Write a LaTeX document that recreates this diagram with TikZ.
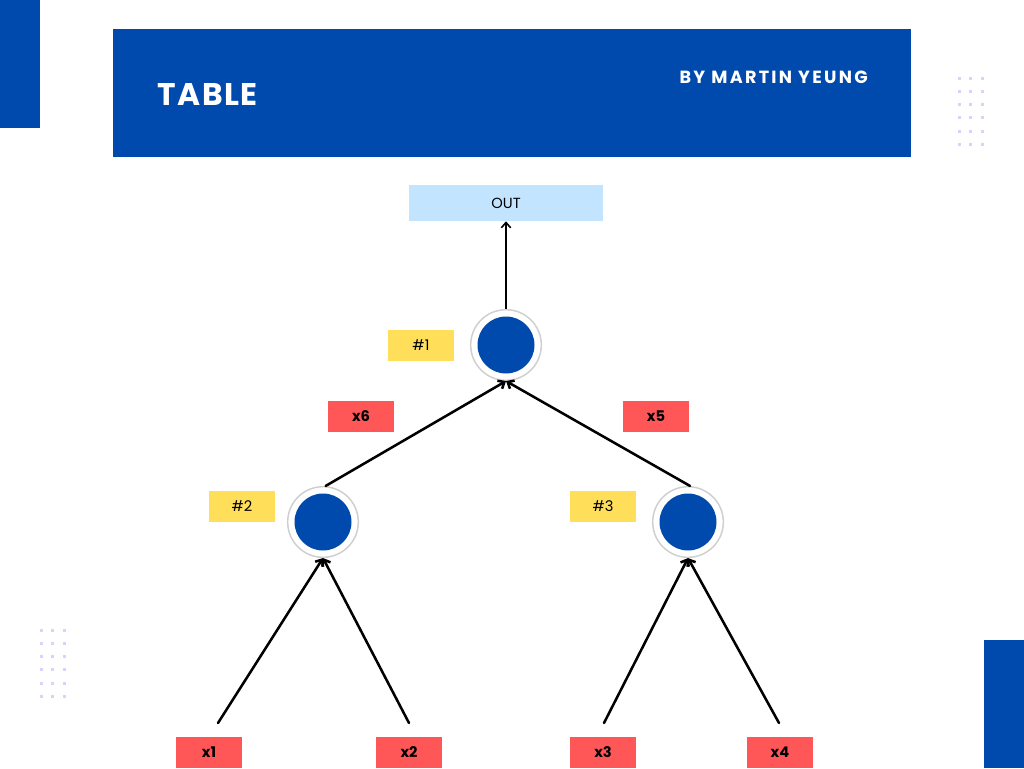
\documentclass[tikz,border=0pt]{standalone}
\usepackage{fontspec}
\setmainfont{Poppins}
\newfontfamily\titlefont[LetterSpace=5]{Poppins}
\newfontfamily\authorfont[LetterSpace=13]{Poppins}
\usetikzlibrary{arrows.meta}
\definecolor{hdrblue}{HTML}{004AAD}
\definecolor{boxred}{HTML}{FF5757}
\definecolor{boxyellow}{HTML}{FFDE59}
\definecolor{outblue}{HTML}{C2E4FF}
\definecolor{dotlav}{HTML}{D8D3FA}
\definecolor{ringgray}{HTML}{CFCFCF}

\begin{document}
\begin{tikzpicture}[x=0.75pt,y=-0.75pt,>={Straight Barb[length=4pt,width=7pt]}]
	\tikzstyle{weight}=[fill=boxred,minimum width=49.5pt,minimum height=23.25pt,inner sep=0pt,font=\bfseries\fontsize{11}{12}\selectfont]
	\tikzstyle{tag}=[fill=boxyellow,minimum width=49.5pt,minimum height=23.25pt,inner sep=0pt,font=\fontsize{11}{12}\selectfont]
	\tikzstyle{ring}=[draw=ringgray,line width=1.1pt,fill=white,shape=circle,minimum size=53pt,inner sep=0pt]
	\tikzstyle{dot}=[fill=hdrblue,shape=circle,minimum size=42.75pt,inner sep=0pt]
	\tikzstyle{link}=[draw,line width=1.9pt,line cap=round]

	\useasboundingbox (0,0) rectangle (1024,768);

	% header
	\fill[hdrblue] (0,0) rectangle (40,128);
	\fill[hdrblue] (113,29) rectangle (911,157);
	\fill[hdrblue] (984,640) rectangle (1024,768);
	\node[text=white,anchor=west,inner sep=0pt,font=\titlefont\bfseries\fontsize{23.5}{26}\selectfont](title) at (157,94){TABLE};
	\node[text=white,anchor=east,inner sep=0pt,font=\authorfont\bfseries\fontsize{13.2}{15}\selectfont](author) at (868,77){BY MARTIN YEUNG};

	% dots
	\foreach \i in {0,...,2}
		\foreach \j in {0,...,5}{
			\fill[dotlav] (957.5+11.5*\i,76.5+13.3*\j) rectangle +(3,3);
			\fill[dotlav] (39.5+11.5*\i,628.5+13.3*\j) rectangle +(3,3);
		}

	\node[fill=outblue,minimum width=145.5pt,minimum height=27pt,inner sep=0pt,font=\fontsize{11}{12}\selectfont](out) at (506,203){OUT};

	\node[ring](c1) at (506,345){};
	\node[dot](c1in) at (c1){};
	\node[ring](c2) at (323,522){};
	\node[dot](c2in) at (c2){};
	\node[ring](c3) at (688,522){};
	\node[dot](c3in) at (c3){};

	\node[tag](t1) at (421,345.5){\#1};
	\node[tag](t2) at (242,506.5){\#2};
	\node[tag](t3) at (603,506.5){\#3};

	\node[weight](x6) at (361,416.5){x6};
	\node[weight](x5) at (656,416.5){x5};
	\node[weight](x1) at (209,752){x1};
	\node[weight](x2) at (409,752){x2};
	\node[weight](x3) at (603,752){x3};
	\node[weight](x4) at (780,752){x4};

	\coordinate (x1t) at (218,723);
	\coordinate (x2t) at (409,723);
	\coordinate (x3t) at (604,723);
	\coordinate (x4t) at (779,723);

	\draw[link,->] (x1t) -- (c2.south);
	\draw[link,->] (x2t) -- (c2.south);
	\draw[link,->] (x3t) -- (c3.south);
	\draw[link,->] (x4t) -- (c3.south);

	\draw[link,->] ([xshift=2pt]c2.north) -- (c1.south);
	\draw[link,->] ([xshift=1.5pt]c3.north) -- (c1.south);

	\draw[->,line width=1.2pt] (c1) -- (out);

\end{tikzpicture}
\end{document}
